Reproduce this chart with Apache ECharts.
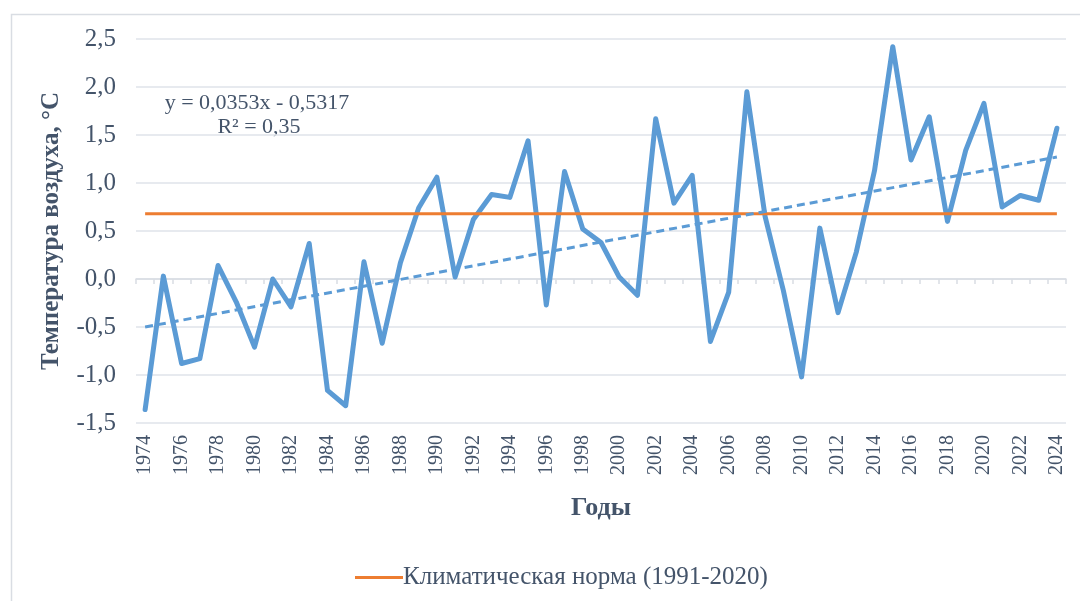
<!DOCTYPE html>
<html>
<head>
<meta charset="utf-8">
<script src="https://cdn.jsdelivr.net/npm/echarts@6/dist/echarts.min.js"></script>
<style>
html,body{margin:0;padding:0;background:#fff;}
#chart{width:1080px;height:601px;}
</style>
</head>
<body>
<div id="chart"></div>
<script>
const years = ['1974','1975','1976','1977','1978','1979','1980','1981','1982','1983','1984','1985','1986','1987','1988','1989','1990','1991','1992','1993','1994','1995','1996','1997','1998','1999','2000','2001','2002','2003','2004','2005','2006','2007','2008','2009','2010','2011','2012','2013','2014','2015','2016','2017','2018','2019','2020','2021','2022','2023','2024'];
const temperature = [-1.36,0.03,-0.88,-0.83,0.14,-0.24,-0.71,0.00,-0.29,0.37,-1.16,-1.32,0.18,-0.67,0.17,0.74,1.06,0.02,0.62,0.88,0.85,1.44,-0.27,1.12,0.52,0.38,0.02,-0.17,1.67,0.79,1.08,-0.65,-0.14,1.95,0.65,-0.12,-1.02,0.53,-0.35,0.28,1.13,2.42,1.24,1.69,0.60,1.34,1.83,0.75,0.87,0.82,1.57];
const normLine = [['1974',0.68],['2024',0.68]];
const trendLine = [['1974',-0.50],['2024',1.27]];
const normName = 'Климатическая норма (1991-2020)';
const yTitle = 'Температура воздуха, °С';
const xTitle = 'Годы';
const eqText = 'y = 0,0353x - 0,5317';
const r2Text = 'R² = 0,35';

const txt = '#44546a';
const font = 'Liberation Serif';
const chart = echarts.init(document.getElementById('chart'), null, {renderer:'canvas'});
chart.setOption({
  animation:false,
  backgroundColor:'#ffffff',
  graphic:[
    {type:'rect', left:9, top:12, shape:{x:0,y:0,width:1090,height:600}, style:{fill:'none', stroke:'#d9dde3', lineWidth:1.5}, z:-10},
    {type:'text', x:257, y:103, style:{text:eqText, font:'22px "Liberation Serif"', fill:txt, textAlign:'center', textVerticalAlign:'middle'}},
    {type:'text', x:259, y:127, style:{text:r2Text, font:'22px "Liberation Serif"', fill:txt, textAlign:'center', textVerticalAlign:'middle'}}
  ],
  grid:{left:136, right:14, top:39, bottom:178, containLabel:false},
  legend:{
    left:350, top:560, itemWidth:48, itemHeight:3, itemGap:10,
    data:[{name:normName, icon:'rect'}],
    textStyle:{fontFamily:font, fontSize:25, color:txt, padding:[0,0,0,-5]}
  },
  xAxis:[
    {
      type:'category', data:years, boundaryGap:true, position:'bottom',
      axisLine:{show:false, onZero:false}, axisTick:{show:false},
      axisLabel:{interval:1, rotate:90, margin:12, fontFamily:font, fontSize:20, color:txt},
      name:xTitle, nameLocation:'middle', nameGap:72,
      nameTextStyle:{fontFamily:font, fontSize:26, fontWeight:'bold', color:txt}
    },
    {
      type:'category', data:years, boundaryGap:true, position:'bottom',
      axisLine:{show:true, onZero:true, lineStyle:{color:'#d9dde3', width:1.5}},
      axisTick:{show:true, length:5, interval:0, lineStyle:{color:'#d9dde3', width:1.5}},
      axisLabel:{show:false}
    }
  ],
  yAxis:{
    type:'value', min:-1.5, max:2.5, interval:0.5,
    axisLine:{show:false}, axisTick:{show:false},
    splitLine:{lineStyle:{color:'#dfe3ea', width:1.5}},
    axisLabel:{margin:20, fontFamily:font, fontSize:25, color:txt, formatter:v=>v.toFixed(1).replace('.',',')},
    name:yTitle, nameLocation:'middle', nameGap:72, nameRotate:90,
    nameTextStyle:{fontFamily:font, fontSize:25, fontWeight:'bold', color:txt}
  },
  series:[
    {name:'Температура', type:'line', data:temperature, symbol:'none', xAxisIndex:0,
     lineStyle:{color:'#5b9bd5', width:5, join:'round', cap:'round'}, itemStyle:{color:'#5b9bd5'}, z:3},
    {name:normName, type:'line', data:normLine, symbol:'none', xAxisIndex:0,
     lineStyle:{color:'#ed7d31', width:3}, itemStyle:{color:'#ed7d31'}, z:4},
    {name:'Тренд', type:'line', data:trendLine, symbol:'none', xAxisIndex:0,
     lineStyle:{color:'#5b9bd5', width:3, type:[8,5]}, itemStyle:{color:'#5b9bd5'}, z:5}
  ]
});
</script>
</body>
</html>
